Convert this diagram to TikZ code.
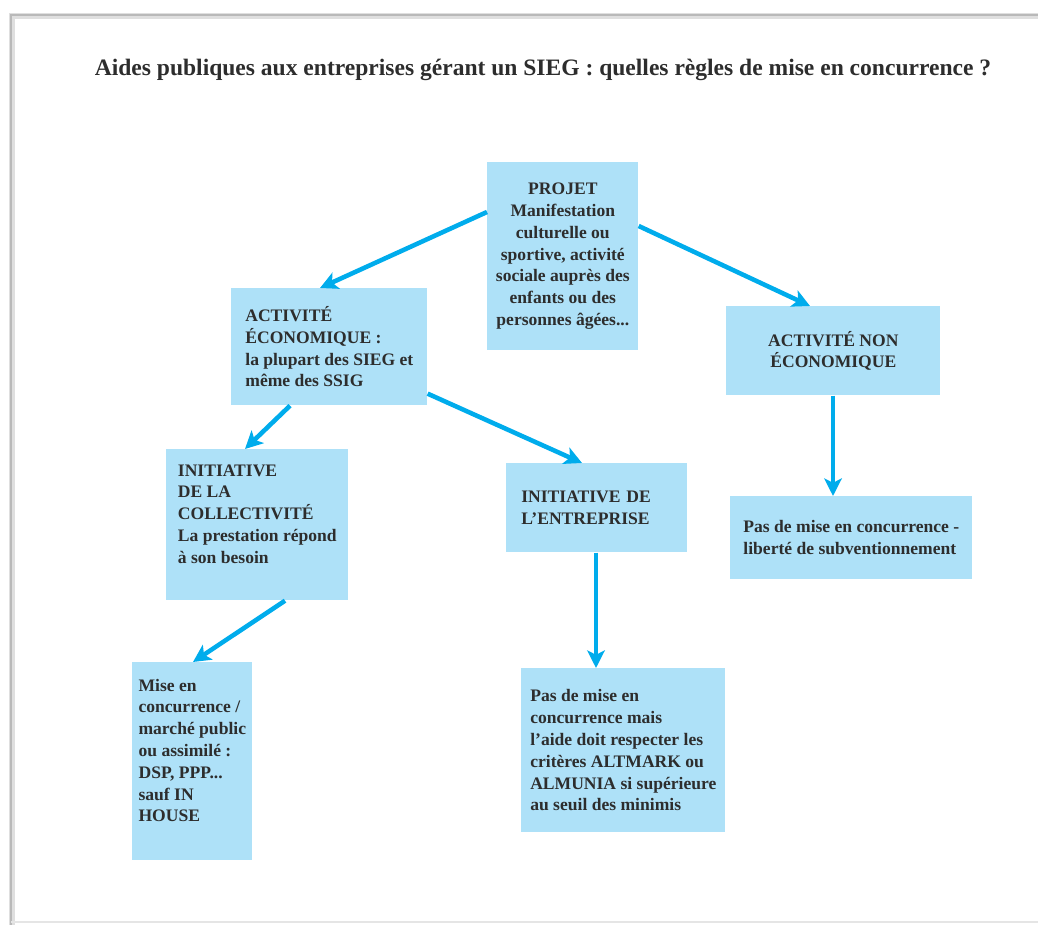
\documentclass[tikz,border=0pt]{standalone}
\usepackage{fontspec}
\setmainfont{Liberation Serif}
\usetikzlibrary{positioning,calc,arrows.meta}

\definecolor{boxblue}{RGB}{174,225,248}
\definecolor{arrowblue}{RGB}{0,172,236}
\definecolor{txtgray}{RGB}{45,45,45}

\begin{document}
\begin{tikzpicture}[x=0.02cm,y=-0.02cm,
  box/.style={fill=boxblue,anchor=north west,inner sep=0pt,
    text=txtgray,font=\bfseries\fontsize{10}{12.4}\selectfont},
  fl/.style={draw=arrowblue,line width=2.6pt,
    -{Stealth[length=10pt,width=10pt,inset=2.5pt]}}]

\useasboundingbox (0,0) rectangle (1038,925);
% page frame
\draw[gray!25,line width=3pt] (12,925) -- (12,16) -- (1038,16);
\draw[gray!55,line width=0.8pt] (11,925) -- (11,15) -- (1038,15);
\draw[gray!20,line width=1pt] (11,922) -- (1038,922);

\node[text=txtgray,font=\bfseries\fontsize{13.4}{16}\selectfont] (title) at (543,70)
  {Aides publiques aux entreprises gérant un SIEG : quelles règles de mise en concurrence ?};

\node[box,align=center,minimum width=3.02cm,minimum height=3.76cm] (projet) at (487,162)
  {PROJET\\Manifestation\\culturelle ou\\sportive, activité\\sociale auprès des\\enfants ou des\\personnes âgées...};
\node[box,align=left,minimum width=3.92cm,minimum height=2.34cm] (eco) at (231,288)
  {ACTIVITÉ\\ÉCONOMIQUE :\\la plupart des SIEG et\\même des SSIG};
\node[box,align=center,minimum width=4.28cm,minimum height=1.78cm] (noneco) at (726,306)
  {ACTIVITÉ NON\\ÉCONOMIQUE};
\node[box,align=left,minimum width=3.64cm,minimum height=3.02cm] (coll) at (166,449)
  {INITIATIVE\\DE LA\\COLLECTIVITÉ\\La prestation répond\\à son besoin\\\rule{0pt}{5pt}};
\node[box,align=left,inner xsep=0.3cm,text width=3.02cm,minimum height=1.78cm] (entr) at (506,463)
  {INITIATIVE DE\\L’ENTREPRISE};
\node[box,align=left,minimum width=4.84cm,minimum height=1.66cm] (pasnon) at (730,496)
  {Pas de mise en concurrence -\\liberté de subventionnement};
\node[box,align=left,minimum width=2.4cm,minimum height=3.96cm] (mise) at (132,662)
  {Mise en\\concurrence /\\marché public\\ou assimilé :\\DSP, PPP...\\sauf IN\\HOUSE\\\rule{0pt}{12pt}};
\node[box,align=left,minimum width=4.08cm,minimum height=3.28cm] (pasmise) at (521,668)
  {Pas de mise en\\concurrence mais\\l’aide doit respecter les\\critères ALTMARK ou\\ALMUNIA si supérieure\\au seuil des minimis};

\draw[fl] ($(projet.north west)+(0,50)$) -- ($(eco.north west)+(89,0)$);
\draw[fl] ($(projet.north east)+(0,64)$) -- ($(noneco.north west)+(84,0)$);
\draw[fl] ($(eco.south west)+(59,0)$) -- ($(coll.north west)+(79,0)$);
\draw[fl] ($(eco.south east)+(0,-12)$) -- ($(entr.north west)+(76,0)$);
\draw[fl] ($(coll.south west)+(119,0)$) -- ($(mise.north west)+(61,0)$);
\draw[fl] ($(entr.south west)+(90,0)$) -- ($(pasmise.north west)+(75,0)$);
\draw[fl] ($(noneco.south west)+(107,0)$) -- ($(pasnon.north west)+(103,0)$);
\end{tikzpicture}
\end{document}
